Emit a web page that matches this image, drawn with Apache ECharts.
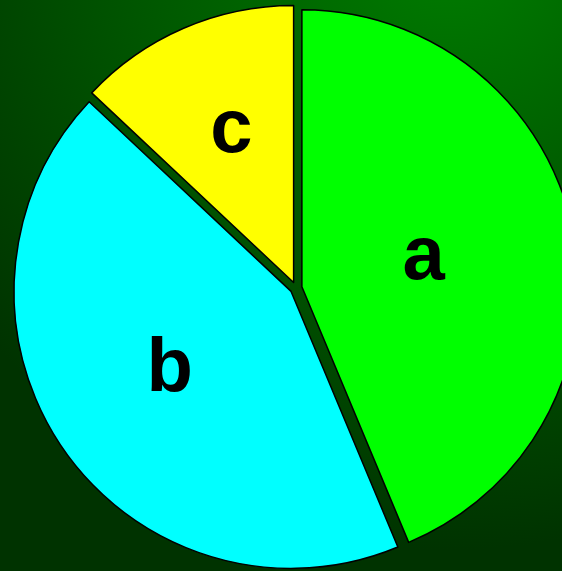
<!DOCTYPE html>
<html>
<head>
<meta charset="utf-8">
<script src="https://cdn.jsdelivr.net/npm/echarts@6/dist/echarts.min.js"></script>
<style>
html, body { margin: 0; padding: 0; }
#main { width: 562px; height: 571px; }
</style>
</head>
<body>
<div id="main"></div>
<script>
// slices, clockwise from 12 o'clock
var names = ['a', 'b', 'c'];
var values = [43.7, 43.3, 13.0];
var colors = ['#00ff00', '#00ffff', '#ffff00'];

var pieData = names.map(function (n, i) {
	return {
		name: n,
		value: values[i],
		selected: true,
		itemStyle: { color: colors[i] }
	};
});

// small nudges so the letters sit where the original put them
var labelNudge = [[-17, -1], [-5, -2], [-6, -22]];

var chart = echarts.init(document.getElementById('main'));
chart.setOption({
	animation: false,
	backgroundColor: {
		type: 'radial',
		x: 0.8,
		y: -0.1,
		r: 1.2,
		colorStops: [
			{ offset: 0, color: 'rgb(0,125,0)' },
			{ offset: 0.9, color: 'rgb(0,51,0)' },
			{ offset: 1, color: 'rgb(0,51,0)' }
		]
	},
	series: [
		{
			type: 'pie',
			center: [296, 288],
			radius: [0, 277],
			startAngle: 90,
			clockwise: true,
			selectedMode: 'multiple',
			selectedOffset: 6,
			avoidLabelOverlap: false,
			itemStyle: {
				borderColor: '#000',
				borderWidth: 1.5
			},
			label: {
				show: true,
				position: 'inner',
				formatter: '{b}',
				color: '#000',
				fontSize: 76,
				fontWeight: 'bold',
				fontFamily: 'Liberation Sans'
			},
			labelLayout: function (params) {
				var n = labelNudge[params.dataIndex];
				return { dx: n[0], dy: n[1] };
			},
			labelLine: { show: false },
			emphasis: { disabled: true },
			select: {
				itemStyle: { borderColor: '#000', borderWidth: 1.5 },
				label: { color: '#000' }
			},
			data: pieData
		}
	]
});
</script>
</body>
</html>
